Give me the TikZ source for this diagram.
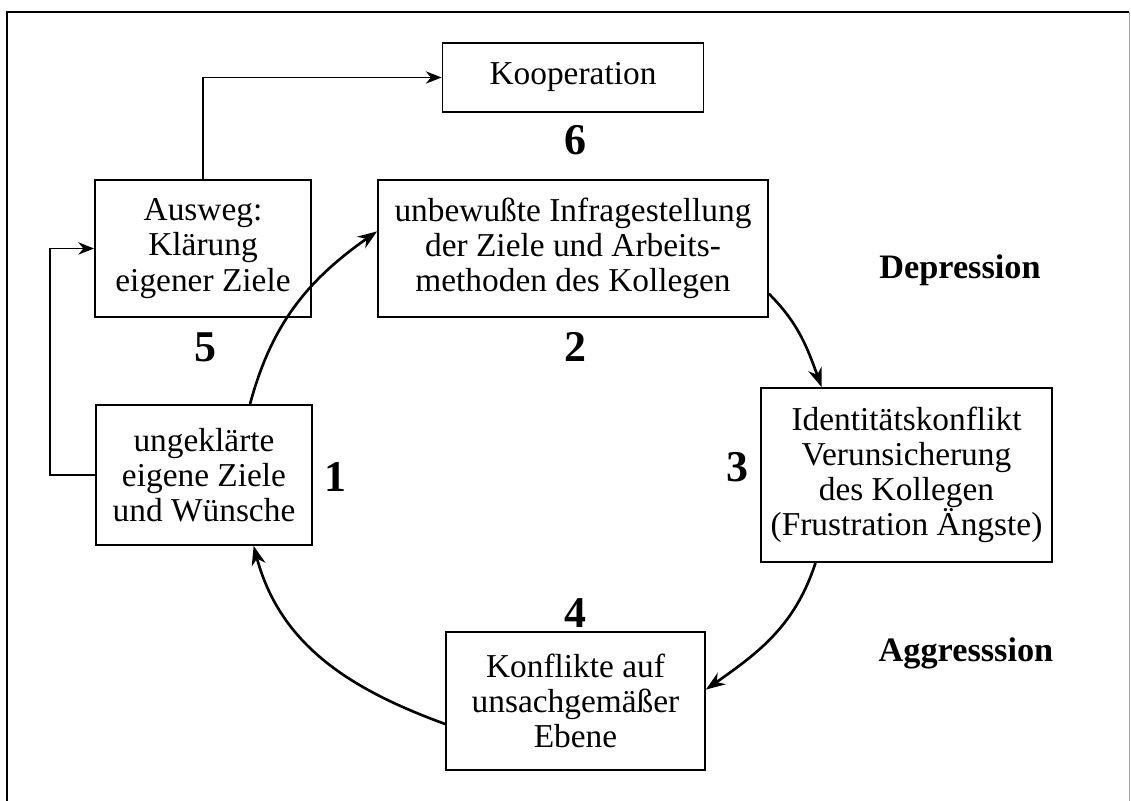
\documentclass[tikz,border=0pt]{standalone}
\usepackage{fontspec}
\setmainfont{Liberation Serif}
\usepackage{tikz}
\usetikzlibrary{arrows.meta,positioning}

\begin{document}
\begin{tikzpicture}[box/.style={draw, line width=1pt, align=center, inner sep=0pt,
      font=\fontsize{19}{20}\selectfont},
    num/.style={font=\fontsize{25}{25}\selectfont\bfseries},
    mood/.style={font=\fontsize{19.5}{20}\selectfont\bfseries},
    cyc/.style={line width=1.5pt, -{Stealth[length=11pt,width=8pt]}},
    link/.style={line width=1pt, -{Stealth[length=9pt,width=7pt]}}, >=Stealth]
    \useasboundingbox (0,0) rectangle (22.62,16.02);
    \draw[line width=1pt] (0.14,0) |- (22.58,15.78);
    \draw[line width=0.4pt, black!35] (22.58,15.78) -- (22.58,0);
    \node[box, minimum width=5.22cm, minimum height=1.38cm] (koop) at (11.46,14.47) {Kooperation};
    \node[box, minimum width=4.32cm, minimum height=2.74cm] (ausweg) at (4.06,11.05) {Ausweg:\\ Klärung\\ eigener Ziele};
    \node[box, minimum width=7.8cm, minimum height=2.74cm] (frage) at (11.46,11.05) {unbewußte Infragestellung\\ der Ziele und Arbeits-\\ methoden des Kollegen};
    \node[box, minimum width=4.32cm, minimum height=2.8cm] (ziele) at (4.08,6.52) {ungeklärte\\ eigene Ziele\\ und Wünsche};
    \node[box, minimum width=5.82cm, minimum height=3.48cm] (ident) at (18.13,6.52) {Identitätskonflikt\\ Verunsicherung\\ des Kollegen\\ (Frustration Ängste)};
    \node[box, minimum width=5.18cm, minimum height=2.76cm] (ebene) at (11.51,2.0) {Konflikte auf\\ unsachgemäßer\\ Ebene};
    \node[num] (n6) at (11.5,13.22) {6};
    \node[num] (n5) at (4.1,9.08) {5};
    \node[num] (n2) at (11.5,9.08) {2};
    \node[num] (n1) at (6.7,6.48) {1};
    \node[num] (n3) at (14.74,6.68) {3};
    \node[num] (n4) at (11.5,3.76) {4};
    \node[mood] (depr) at (19.2,10.62) {Depression};
    \node[mood] (aggr) at (19.32,2.96) {Aggresssion};
    \draw[cyc] (ziele.57) to[out=75, in=215] (frage.175);
    \draw[cyc] (frage.-13) to[out=-45, in=110] (ident.134);
    \draw[cyc] (ident.-136) to[out=-108, in=35] (ebene.5);
    \draw[cyc] (ebene.190) to[out=160, in=-75] (ziele.-55);
    \draw[link] (ziele.west) -- ++(-0.9,0) |- (ausweg.west);
    \draw[link] (ausweg.north) |- (koop.west);
  \end{tikzpicture}
\end{document}
